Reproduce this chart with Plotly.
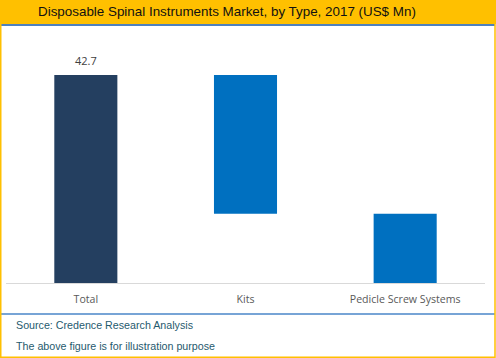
import plotly.graph_objects as go

categories = ["Total", "Kits", "Pedicle Screw Systems"]
measures = ["absolute", "relative", "relative"]
values = [42.7, -28.5, -14.2]
label_text = ["42.7", "", ""]

title_text = "Disposable Spinal Instruments Market, by Type, 2017 (US$ Mn)"
source_text = "Source: Credence Research Analysis"
note_text = "The above figure is for illustration purpose"

W, H = 496, 358
L, R, T, B = 6, 11, 30, 75
PW, PH = W - L - R, H - T - B
px_per_unit = 208 / 42.7
ymax = PH / px_per_unit


def px(x):
    return (x - L) / PW


def py(y):
    return 1 - (y - T) / PH


fig = go.Figure(go.Waterfall(
    x=categories,
    y=values,
    measure=measures,
    totals=dict(marker=dict(color="#243F60")),
    decreasing=dict(marker=dict(color="#0070C0")),
    increasing=dict(marker=dict(color="#0070C0")),
    connector=dict(visible=False),
    hoverinfo="x+y",
))

fig.add_annotation(x=categories[0], y=values[0], text=label_text[0],
                   showarrow=False, yshift=15,
                   font=dict(family="Open Sans", size=11, color="#404040"))

shapes = [
    dict(type="rect", xref="paper", yref="paper", x0=px(0), x1=px(W), y0=py(0), y1=py(24),
         fillcolor="#FFC000", line=dict(width=0), layer="below"),
    dict(type="rect", xref="paper", yref="paper", x0=px(1), x1=px(W - 1), y0=py(24), y1=py(26),
         fillcolor="#4F81BD", line=dict(width=0)),
    dict(type="line", xref="paper", yref="paper", x0=px(1), x1=px(W - 1), y0=py(314), y1=py(314),
         line=dict(color="#4A86C8", width=1.5)),
    dict(type="rect", xref="paper", yref="paper", x0=px(0.75), x1=px(W - 1), y0=py(0.5), y1=py(H - 0.75),
         fillcolor="rgba(0,0,0,0)", line=dict(color="#FFC000", width=1.5)),
]

annotations = [
    dict(text=title_text, xref="paper", yref="paper", x=px(36), y=py(12),
         xanchor="left", yanchor="middle", showarrow=False,
         font=dict(family="Liberation Sans", size=13.4, color="#111111")),
    dict(text=source_text, xref="paper", yref="paper", x=px(14), y=py(325),
         xanchor="left", yanchor="middle", showarrow=False,
         font=dict(family="Liberation Sans", size=10.7, color="#1F5A6E")),
    dict(text=note_text, xref="paper", yref="paper", x=px(14), y=py(346),
         xanchor="left", yanchor="middle", showarrow=False,
         font=dict(family="Liberation Sans", size=10.7, color="#1F5A6E")),
]
for a in annotations:
    fig.add_annotation(**a)

fig.update_layout(
    width=W, height=H,
    margin=dict(l=L, r=R, t=T, b=B, pad=0),
    paper_bgcolor="white", plot_bgcolor="white",
    showlegend=False,
    waterfallgap=0.605,
    shapes=shapes,
    xaxis=dict(showline=True, linecolor="#D9D9D9", linewidth=1, showgrid=False,
               ticks="", tickfont=dict(family="Open Sans", size=10.6, color="#595959"),
               ticklabelstandoff=6),
    yaxis=dict(range=[0, ymax], visible=False, showgrid=False, zeroline=False),
)

fig.write_html("out.html", config={"displayModeBar": False},
               post_script="document.body.style.margin='0px';")
